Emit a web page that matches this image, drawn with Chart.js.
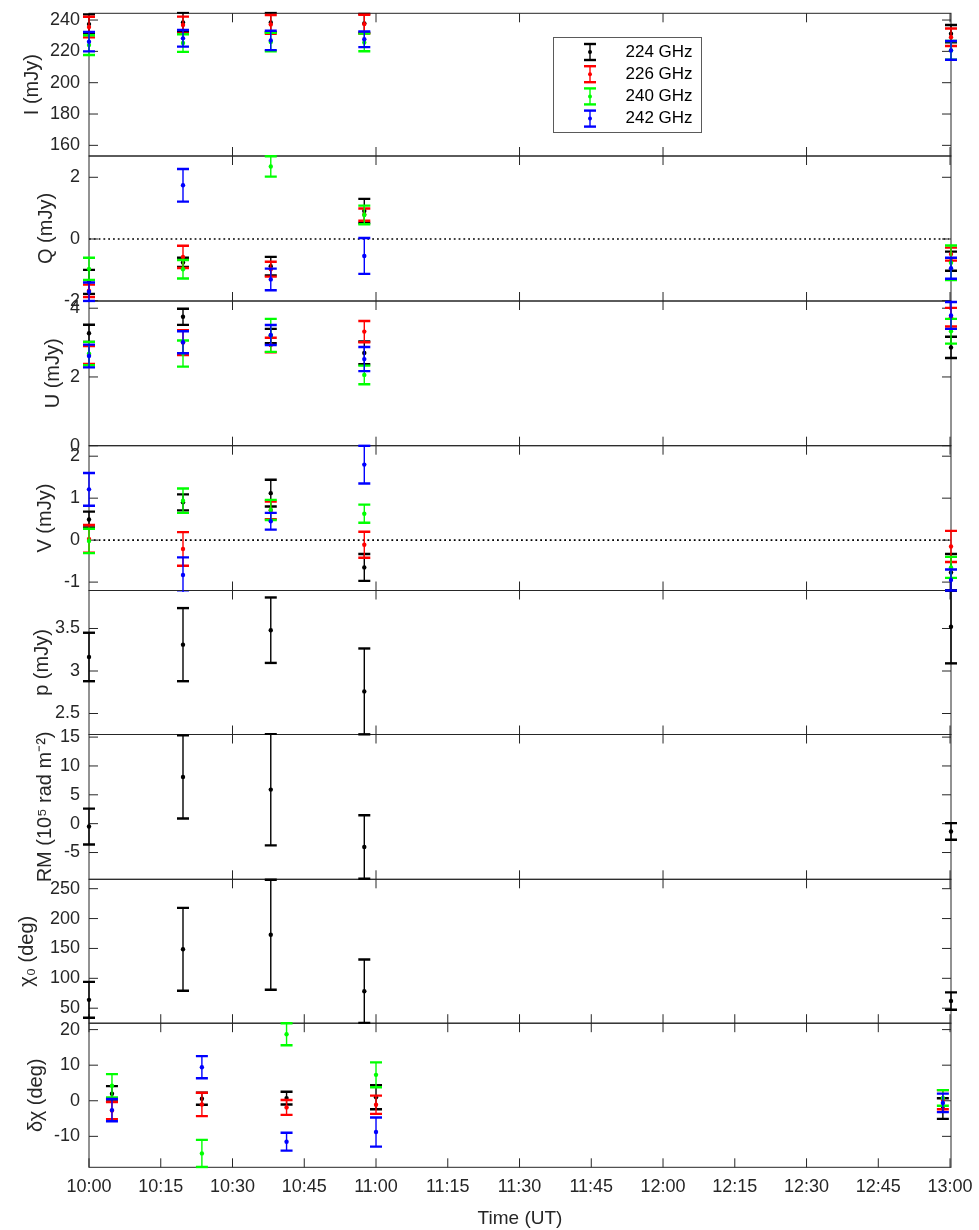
<!DOCTYPE html>
<html><head><meta charset="utf-8">
<script src="https://cdn.jsdelivr.net/npm/chart.js@4.4.1/dist/chart.umd.min.js"></script>
<style>html,body{margin:0;padding:0;background:#fff}canvas{display:block}</style>
</head><body>
<canvas id="c" width="979" height="1230"></canvas>
<script>
const FONT = "'Liberation Sans', Arial, Helvetica, sans-serif";
const AXIS_COLOR = '#262626';

// ---------- categories / ticks ----------
const freqs = ['224 GHz', '226 GHz', '240 GHz', '242 GHz'];
const freqColors = ['#000000', '#ff0000', '#00ff00', '#0000ff'];
const timeTickValues = [0, 15, 30, 45, 60, 75, 90, 105, 120, 135, 150, 165, 180]; // minutes after 10:00 UT
const timeTickLabels = ['10:00', '10:15', '10:30', '10:45', '11:00', '11:15', '11:30', '11:45', '12:00', '12:15', '12:30', '12:45', '13:00'];
const upperTickValues = [30, 60, 90, 120, 150, 180];
const ticksI = [160, 180, 200, 220, 240];
const ticksQ = [-2, 0, 2];
const ticksU = [0, 2, 4];
const ticksV = [-1, 0, 1, 2];
const ticksP = [2.5, 3, 3.5];
const ticksRM = [-5, 0, 5, 10, 15];
const ticksChi0 = [50, 100, 150, 200, 250];
const ticksDchi = [-10, 0, 10, 20];

// ---------- observation times (minutes after 10:00 UT) ----------
const timesStokes = [0, 19.65, 38.0, 57.55, 180.2];
const timesDchi = [4.8, 23.6, 41.3, 60.0, 178.5];

// ---------- Stokes I (mJy) ----------
const I224 = [237.4, 238.5, 238.5, 237.9, 231.3];
const I224err = [6.2, 6.2, 6.2, 6.0, 5.5];
const I226 = [235.5, 236.8, 237.2, 237.4, 229.0];
const I226err = [6.6, 5.4, 6.0, 6.0, 5.6];
const I240 = [224.0, 225.3, 226.0, 225.7, 220.6];
const I240err = [6.3, 5.6, 5.9, 5.6, 6.0];
const I242 = [226.2, 228.3, 227.0, 227.7, 220.6];
const I242err = [6.2, 5.3, 6.2, 5.0, 6.0];

// ---------- Stokes Q (mJy) ----------
const Q224 = [-1.39, -0.76, -0.88, 0.91, -0.72];
const Q224err = [0.39, 0.15, 0.30, 0.39, 0.31];
const Q226 = [-1.68, -0.58, -0.98, 0.79, -0.49];
const Q226err = [0.20, 0.36, 0.24, 0.20, 0.21];
const Q240 = [-0.97, -0.98, 2.35, 0.78, -0.77];
const Q240err = [0.36, 0.30, 0.33, 0.30, 0.56];
const Q242 = [-1.71, 1.74, -1.31, -0.55, -0.95];
const Q242err = [0.30, 0.53, 0.35, 0.58, 0.34];

// ---------- Stokes U (mJy) ----------
const U224 = [3.27, 3.75, 3.19, 2.70, 2.86];
const U224err = [0.25, 0.235, 0.21, 0.33, 0.31];
const U226 = [2.64, 3.00, 2.93, 3.32, 3.74];
const U226err = [0.26, 0.36, 0.21, 0.31, 0.27];
const U240 = [2.68, 2.68, 3.21, 2.06, 3.33];
const U240err = [0.34, 0.38, 0.48, 0.27, 0.36];
const U242 = [2.61, 3.01, 3.22, 2.52, 3.79];
const U242err = [0.33, 0.32, 0.29, 0.35, 0.39];

// ---------- Stokes V (mJy) ----------
const V224 = [0.49, 0.90, 1.12, -0.65, -0.77];
const V224err = [0.19, 0.19, 0.32, 0.32, 0.44];
const V226 = [0.03, -0.21, 0.71, -0.11, -0.15];
const V226err = [0.33, 0.40, 0.21, 0.31, 0.37];
const V240 = [-0.02, 0.94, 0.72, 0.63, -0.65];
const V240err = [0.29, 0.29, 0.24, 0.215, 0.25];
const V242 = [1.21, -0.83, 0.45, 1.80, -0.95];
const V242err = [0.39, 0.42, 0.20, 0.45, 0.25];

// ---------- polarized flux, RM, chi0 ----------
const pVals = [3.165, 3.31, 3.48, 2.76, 3.52];
const pErr = [0.285, 0.43, 0.385, 0.505, 0.43];
const rmVals = [-0.5, 8.09, 5.9, -4.05, -1.35];
const rmErr = [3.1, 7.2, 9.66, 5.5, 1.45];
const chi0Vals = [64, 148.6, 173, 78.4, 62];
const chi0Err = [30, 69.3, 92, 53, 14.5];

// ---------- delta chi (deg) ----------
const D224 = [1.96, 0.56, 0.75, 1.0, -2.2];
const D224err = [2.15, 1.7, 1.8, 3.37, 2.9];
const D226 = [-2.76, -1.03, -1.87, -1.12, 0.3];
const D226err = [2.4, 3.3, 2.1, 2.57, 2.7];
const D240 = [4.2, -14.8, 18.7, 7.29, 0.8];
const D240err = [3.3, 3.8, 3.1, 3.5, 2.2];
const D242 = [-2.62, 9.44, -11.5, -8.79, -0.6];
const D242err = [3.13, 3.1, 2.5, 4.1, 2.6];

// ---------- panel layout (styles / sizes, separate from data) ----------
const panels = [
  {id: 'yI',   title: 'I (mJy)',            min: 153.2, max: 244.3, ticks: ticksI,    titlePad: 20, h: 142.7},
  {id: 'yQ',   title: 'Q (mJy)',            min: -2.01, max: 2.69,  ticks: ticksQ,    titlePad: 34, h: 145.0, zeroLine: true},
  {id: 'yU',   title: 'U (mJy)',            min: 0,     max: 4.21,  ticks: ticksU,    titlePad: 41, h: 144.7},
  {id: 'yV',   title: 'V (mJy)',            min: -1.2,  max: 2.25,  ticks: ticksV,    titlePad: 33.5, h: 144.8, zeroLine: true},
  {id: 'yP',   title: 'p (mJy)',            min: 2.253, max: 3.947, ticks: ticksP,    titlePad: 30, h: 144.0},
  {id: 'yRM',  title: 'RM (10\u2075 rad m\u207B\u00B2)', min: -9.64, max: 15.45, ticks: ticksRM, titlePad: 33, h: 144.8},
  {id: 'yC0',  title: '\u03C7\u2080 (deg)', min: 24.9,  max: 265.7, ticks: ticksChi0, titlePad: 15, h: 143.9},
  {id: 'yD',   title: '\u03B4\u03C7 (deg)', min: -18.7, max: 21.8,  ticks: ticksDchi, titlePad: 24, h: 144.1}
];

function mk(label, axis, times, vals, errs, ci) {
  return {
    label: label, yAxisID: axis,
    data: times.map((t, i) => ({x: t, y: vals[i]})),
    errors: errs,
    backgroundColor: freqColors[ci], borderColor: freqColors[ci],
    pointRadius: 2.2, pointBorderWidth: 0, pointHoverRadius: 2.2,
    showLine: false, clip: false, order: 4 - ci
  };
}

const datasets = [
  mk(freqs[0], 'yI', timesStokes, I224, I224err, 0),
  mk(freqs[1], 'yI', timesStokes, I226, I226err, 1),
  mk(freqs[2], 'yI', timesStokes, I240, I240err, 2),
  mk(freqs[3], 'yI', timesStokes, I242, I242err, 3),
  mk(freqs[0], 'yQ', timesStokes, Q224, Q224err, 0),
  mk(freqs[1], 'yQ', timesStokes, Q226, Q226err, 1),
  mk(freqs[2], 'yQ', timesStokes, Q240, Q240err, 2),
  mk(freqs[3], 'yQ', timesStokes, Q242, Q242err, 3),
  mk(freqs[0], 'yU', timesStokes, U224, U224err, 0),
  mk(freqs[1], 'yU', timesStokes, U226, U226err, 1),
  mk(freqs[2], 'yU', timesStokes, U240, U240err, 2),
  mk(freqs[3], 'yU', timesStokes, U242, U242err, 3),
  mk(freqs[0], 'yV', timesStokes, V224, V224err, 0),
  mk(freqs[1], 'yV', timesStokes, V226, V226err, 1),
  mk(freqs[2], 'yV', timesStokes, V240, V240err, 2),
  mk(freqs[3], 'yV', timesStokes, V242, V242err, 3),
  mk('p', 'yP', timesStokes, pVals, pErr, 0),
  mk('RM', 'yRM', timesStokes, rmVals, rmErr, 0),
  mk('chi0', 'yC0', timesStokes, chi0Vals, chi0Err, 0),
  mk(freqs[0], 'yD', timesDchi, D224, D224err, 0),
  mk(freqs[1], 'yD', timesDchi, D226, D226err, 1),
  mk(freqs[2], 'yD', timesDchi, D240, D240err, 2),
  mk(freqs[3], 'yD', timesDchi, D242, D242err, 3)
];

function seg(ctx, x1, y1, x2, y2) { ctx.beginPath(); ctx.moveTo(x1, y1); ctx.lineTo(x2, y2); ctx.stroke(); }

const framesPlugin = {
  id: 'frames',
  beforeDatasetsDraw(chart) {
    const ctx = chart.ctx, xs = chart.scales.x, ca = chart.chartArea;
    ctx.save();
    panels.forEach((p, k) => {
      const s = chart.scales[p.id];
      if (p.zeroLine) {
        const y = s.getPixelForValue(0);
        ctx.save();
        ctx.strokeStyle = '#000'; ctx.lineWidth = 1.6; ctx.setLineDash([1.8, 3]);
        seg(ctx, ca.left, y, ca.right - 2, y);
        ctx.restore();
      }
      ctx.strokeStyle = AXIS_COLOR; ctx.lineWidth = 1;
      ctx.strokeRect(ca.left, s.top, ca.right - ca.left, s.bottom - s.top);
      s.ticks.forEach(t => {
        const y = s.getPixelForValue(t.value);
        seg(ctx, ca.left, y, ca.left + 9, y);
        seg(ctx, ca.right - 9, y, ca.right, y);
      });
      const topT = (k === panels.length - 1) ? timeTickValues : upperTickValues;
      const botT = (k >= panels.length - 2) ? timeTickValues : upperTickValues;
      topT.forEach(v => { const x = xs.getPixelForValue(v); seg(ctx, x, s.top, x, s.top + 9); });
      botT.forEach(v => { const x = xs.getPixelForValue(v); seg(ctx, x, s.bottom - 9, x, s.bottom); });
    });
    ctx.restore();
  },
  beforeDatasetDraw(chart, args) {
    const ds = chart.data.datasets[args.index];
    if (!ds.errors) return;
    const ctx = chart.ctx, xs = chart.scales.x, ys = chart.scales[ds.yAxisID];
    ctx.save();
    ctx.beginPath();
    ctx.rect(0, ys.top - 1.5, chart.width, ys.bottom - ys.top + 3);
    ctx.clip();
    ctx.strokeStyle = ds.borderColor;
    ds.data.forEach((pt, i) => {
      const e = ds.errors[i];
      const x = xs.getPixelForValue(pt.x);
      const y1 = ys.getPixelForValue(pt.y + e);
      const y2 = ys.getPixelForValue(pt.y - e);
      ctx.lineWidth = 1.4;
      seg(ctx, x, y1, x, y2);
      ctx.lineWidth = 2.4;
      seg(ctx, x - 6, y1, x + 6, y1);
      seg(ctx, x - 6, y2, x + 6, y2);
    });
    ctx.restore();
  },
  afterDraw(chart) {
    const ctx = chart.ctx;
    const bx = 553.5, by = 37.5, bw = 148, bh = 95;
    ctx.save();
    ctx.fillStyle = '#fff';
    ctx.fillRect(bx, by, bw, bh);
    ctx.strokeStyle = '#5a5a5a'; ctx.lineWidth = 1;
    ctx.strokeRect(bx, by, bw, bh);
    freqs.forEach((f, i) => {
      const cy = by + 14.5 + i * 22.2;
      const cx = bx + 36.5;
      ctx.strokeStyle = freqColors[i]; ctx.fillStyle = freqColors[i];
      ctx.lineWidth = 1.4; seg(ctx, cx, cy - 8, cx, cy + 8);
      ctx.lineWidth = 2.4; seg(ctx, cx - 6, cy - 8, cx + 6, cy - 8); seg(ctx, cx - 6, cy + 8, cx + 6, cy + 8);
      ctx.beginPath(); ctx.arc(cx, cy, 2, 0, Math.PI * 2); ctx.fill();
      ctx.fillStyle = '#000';
      ctx.font = '17px ' + FONT;
      ctx.textAlign = 'left'; ctx.textBaseline = 'middle';
      ctx.fillText(f, bx + 72, cy);
    });
    ctx.restore();
  }
};

const scales = {
  x: {
    type: 'linear', position: 'bottom', min: 0, max: 180.2,
    grid: {display: false, drawTicks: false}, border: {display: false},
    afterBuildTicks: s => { s.ticks = timeTickValues.map(v => ({value: v})); },
    afterFit: s => { s.height = 62.7; s.paddingLeft = 0; s.paddingRight = 0; },
    ticks: {autoSkip: false, maxRotation: 0, padding: 9, color: AXIS_COLOR,
      font: {family: FONT, size: 18}, callback: (v, i) => timeTickLabels[i]},
    title: {display: true, text: 'Time (UT)', color: AXIS_COLOR, font: {family: FONT, size: 19},
      padding: {top: 0, bottom: 0}}
  }
};
panels.forEach((p, k) => {
  scales[p.id] = {
    type: 'linear', position: 'left', stack: 'panels', stackWeight: p.h, weight: panels.length - k,
    min: p.min, max: p.max,
    grid: {display: false, drawTicks: false}, border: {display: false},
    afterBuildTicks: s => { s.ticks = p.ticks.map(v => ({value: v})); },
    afterFit: s => { s.width = 89; s.paddingTop = 0; s.paddingBottom = 0; },
    ticks: {autoSkip: false, padding: 9, color: AXIS_COLOR, font: {family: FONT, size: 18},
      callback: v => String(v)},
    title: {display: true, text: p.title, color: AXIS_COLOR, font: {family: FONT, size: 20},
      padding: {top: p.titlePad, bottom: 0}}
  };
});

new Chart(document.getElementById('c'), {
  type: 'scatter',
  data: {datasets: datasets},
  options: {
    responsive: false, devicePixelRatio: 1, animation: false, events: [],
    layout: {padding: {left: 0, right: 28, top: 13.3, bottom: 0}},
    plugins: {legend: {display: false}, tooltip: {enabled: false}},
    scales: scales
  },
  plugins: [framesPlugin]
});
</script>
</body></html>
